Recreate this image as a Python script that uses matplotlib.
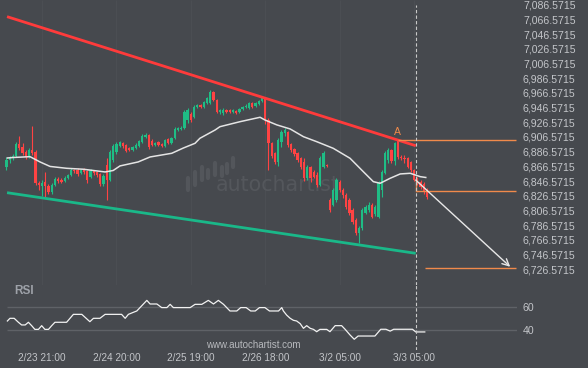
import numpy as np
import matplotlib
matplotlib.use('Agg')
import matplotlib.pyplot as plt

# ---- values (hourly candles, index 0 = first bar) ----
opens = [6866, 6875, 6878, 6881, 6897, 6893, 6886, 6881, 6889, 6886,
         6844, 6840, 6845, 6840, 6832, 6841, 6849, 6848, 6847, 6851,
         6855, 6862, 6862, 6858, 6862, 6860, 6852, 6860, 6859, 6856,
         6843, 6869, 6848, 6875, 6886, 6894, 6898, 6896, 6892, 6889,
         6892, 6894, 6900, 6907, 6909, 6901, 6896, 6900, 6897, 6894,
         6904, 6898, 6905, 6916, 6917, 6919, 6930, 6938, 6934, 6947,
         6950, 6947, 6953, 6953, 6968, 6957, 6941, 6939, 6943, 6943,
         6941, 6942, 6941, 6945, 6947, 6946, 6953, 6949, 6952, 6956,
         6960, 6930, 6898, 6885, 6873, 6900, 6912, 6913, 6897, 6890,
         6885, 6878, 6873, 6851, 6866, 6859, 6855, 6841, 6866, 6869,
         6821, 6814, 6821, 6845, 6835, 6828, 6821, 6807, 6794, 6776,
         6783, 6803, 6807, 6814, 6802, 6798, 6835, 6858, 6875, 6889,
         6874, 6901, 6879, 6878, 6878, 6873, 6862, 6851, 6845, 6843,
         6835]
closes = [6875, 6878, 6881, 6897, 6892, 6885, 6879, 6889, 6885, 6844,
          6841, 6844, 6840, 6832, 6841, 6849, 6847, 6845, 6851, 6855,
          6862, 6860, 6856, 6862, 6859, 6848, 6860, 6858, 6855, 6843,
          6854, 6848, 6886, 6894, 6897, 6900, 6894, 6888, 6889, 6893,
          6896, 6901, 6908, 6909, 6893, 6896, 6898, 6896, 6894, 6902,
          6898, 6905, 6917, 6919, 6919, 6941, 6943, 6930, 6947, 6950,
          6947, 6954, 6960, 6968, 6957, 6941, 6943, 6943, 6941, 6941,
          6943, 6939, 6945, 6947, 6949, 6953, 6947, 6953, 6956, 6960,
          6930, 6898, 6881, 6873, 6903, 6913, 6916, 6896, 6889, 6883,
          6875, 6866, 6851, 6866, 6851, 6852, 6841, 6878, 6885, 6867,
          6807, 6835, 6848, 6835, 6827, 6811, 6803, 6791, 6776, 6783,
          6807, 6811, 6814, 6798, 6811, 6844, 6859, 6885, 6889, 6874,
          6898, 6879, 6878, 6877, 6866, 6862, 6848, 6843, 6839, 6832,
          6825]
highs = [6879, 6881, 6883, 6900, 6908, 6898, 6889, 6892, 6922, 6889,
         6847, 6848, 6859, 6843, 6844, 6852, 6852, 6851, 6854, 6856,
         6864, 6863, 6864, 6863, 6864, 6862, 6863, 6862, 6860, 6858,
         6856, 6878, 6889, 6897, 6900, 6901, 6900, 6897, 6893, 6894,
         6898, 6902, 6911, 6912, 6911, 6904, 6900, 6901, 6898, 6904,
         6905, 6907, 6920, 6920, 6922, 6943, 6946, 6941, 6950, 6951,
         6951, 6956, 6961, 6971, 6969, 6958, 6945, 6946, 6945, 6945,
         6945, 6943, 6946, 6949, 6951, 6954, 6954, 6954, 6957, 6961,
         6961, 6932, 6900, 6886, 6905, 6916, 6919, 6915, 6898, 6892,
         6886, 6879, 6878, 6868, 6867, 6862, 6859, 6881, 6888, 6870,
         6824, 6837, 6851, 6848, 6837, 6830, 6824, 6810, 6796, 6785,
         6810, 6814, 6818, 6817, 6814, 6847, 6862, 6888, 6892, 6890,
         6900, 6904, 6882, 6882, 6879, 6874, 6863, 6852, 6848, 6845,
         6837]
lows = [6862, 6871, 6875, 6879, 6889, 6882, 6877, 6878, 6882, 6841,
        6834, 6826, 6824, 6829, 6829, 6840, 6844, 6844, 6845, 6849,
        6854, 6858, 6854, 6856, 6856, 6844, 6851, 6855, 6852, 6840,
        6840, 6821, 6847, 6873, 6883, 6893, 6892, 6886, 6888, 6888,
        6890, 6893, 6898, 6905, 6890, 6894, 6894, 6894, 6893, 6893,
        6897, 6897, 6904, 6915, 6916, 6917, 6926, 6927, 6932, 6946,
        6946, 6946, 6951, 6951, 6956, 6939, 6938, 6937, 6939, 6939,
        6939, 6938, 6939, 6943, 6946, 6945, 6946, 6947, 6950, 6954,
        6924, 6862, 6878, 6870, 6867, 6893, 6908, 6893, 6886, 6881,
        6873, 6863, 6847, 6848, 6845, 6851, 6839, 6840, 6864, 6866,
        6805, 6813, 6818, 6832, 6824, 6809, 6800, 6788, 6773, 6762,
        6780, 6802, 6805, 6796, 6799, 6796, 6825, 6856, 6871, 6871,
        6868, 6877, 6875, 6871, 6864, 6859, 6847, 6841, 6836, 6829,
        6822]

# moving average (read as points along the white curve)
ma_x = [0.3, 2.1, 7.3, 10.4, 13.5, 18.6, 23.8, 30.5, 33.0, 35.1, 40.7, 44.4,
        51.1, 54.7, 58.3, 59.8, 64.5, 66.0, 72.2, 78.4, 79.9, 83.6, 87.7,
        91.8, 95.9, 101.0, 106.2, 110.3, 113.4, 115.5, 118.6, 121.7, 124.8,
        127.9, 129.6]
ma_val = [6878.0, 6878.7, 6879.8, 6872.6, 6866.5, 6864.0, 6862.7, 6859.0,
          6861.0, 6867.2, 6872.6, 6879.4, 6884.4, 6891.6, 6898.0, 6904.8,
          6916.1, 6920.6, 6927.4, 6933.4, 6929.7, 6923.0, 6917.5, 6907.0,
          6900.2, 6891.2, 6877.6, 6859.4, 6845.8, 6843.6, 6850.4, 6856.3,
          6857.2, 6852.6, 6851.5]

# RSI
rsi_x = [0.3, 1.1, 2.4, 3.7, 4.7, 5.8, 6.8, 7.8, 8.8, 9.9, 10.9, 11.9, 13.0,
         14.0, 15.0, 18.6, 20.7, 23.3, 25.8, 26.9, 28.9, 30.5, 35.6, 36.7,
         37.7, 39.2, 40.3, 43.4, 44.4, 46.5, 48.0, 49.6, 50.6, 51.6, 56.8,
         58.3, 60.4, 62.4, 64.0, 65.5, 67.1, 69.1, 71.2, 72.4, 74.1, 75.5,
         76.9, 78.2, 79.9, 81.3, 84.1, 85.1, 85.6, 86.6, 87.7, 88.7, 89.7,
         90.8, 91.8, 92.8, 93.9, 94.9, 95.9, 96.9, 99.0, 100.0, 101.6, 103.6,
         104.7, 106.2, 107.5, 108.7, 113.9, 115.7, 117.3, 118.6, 119.7,
         125.5, 126.5, 129.3]
rsi_val = [47.7, 50.0, 50.0, 46.6, 44.3, 44.3, 46.6, 43.7, 40.5, 40.5, 43.7,
           40.5, 40.5, 43.7, 46.6, 46.6, 53.4, 53.4, 47.1, 50.0, 50.0, 53.4,
           53.4, 50.0, 53.4, 55.1, 56.3, 65.4, 62.3, 62.3, 59.2, 59.2, 62.0,
           59.2, 59.2, 62.0, 62.0, 65.4, 62.3, 65.4, 62.0, 56.3, 56.3, 59.2,
           59.2, 56.3, 56.3, 59.2, 59.2, 56.3, 56.3, 59.2, 56.3, 52.8, 50.0,
           48.3, 47.7, 45.4, 41.4, 43.7, 41.4, 40.5, 38.5, 40.5, 40.5, 38.5,
           43.7, 43.7, 40.5, 35.7, 32.0, 34.8, 34.8, 40.6, 40.6, 39.0, 40.6,
           40.6, 38.3, 38.3]

# channel lines
res_x, res_y = [0.2, 126.5], [7070.3, 6894.7]
sup_x, sup_y = [0.2, 126.5], [6830.8, 6748.3]

# pattern levels
a_idx, a_level = 121, 6903.0
now_idx = 126.5
entry_top, entry_level = 6848.0, 6833.5
target_start, target_level = 129.4, 6729.0
arrow_end = (155.7, 6730.0)

price_ticks = np.arange(6726.5715, 7090, 20)
date_pos = [11, 34, 57, 80, 103, 126]
date_labels = ['2/23 21:00', '2/24 20:00', '2/25 19:00', '2/26 18:00',
               '3/2 05:00', '3/3 05:00']

# ---- styling ----
BG = '#46494e'
GREEN = '#1fbd85'
RED = '#ff4343'
ORANGE = '#f08a4b'
TXT = '#c3c5c9'
plt.rcParams['font.family'] = ['Liberation Sans', 'DejaVu Sans']

W, H = 588, 368
fig = plt.figure(figsize=(W / 100, H / 100), dpi=100, facecolor=BG)
ax = fig.add_axes([0, 1 - 285 / H, 517 / W, 285 / H], facecolor=BG)
ax_rsi = fig.add_axes([0, 1 - 350 / H, 517 / W, 65 / H], facecolor=BG, sharex=ax)

xmin, xmax = -1.98, 157.8
ax.set_xlim(xmin, xmax)
ax.set_ylim(6705.2, 7092.96)
ax_rsi.set_ylim(22.8, 78.6)

# faint vertical grid
ax.vlines(date_pos, 6705.2, 7092.96, color='#4b4e53', lw=1, zorder=0)

# watermark
bars = [(188, 178, 190), (195, 172, 185), (202, 167, 180), (208, 170, 178),
        (215, 163, 175), (222, 167, 176), (227, 164, 173), (233, 158, 167)]
for bx, yt, yb in bars:
    ax.plot([bx / 517, bx / 517], [1 - yt / 285, 1 - yb / 285], transform=ax.transAxes,
            color='#53565b', lw=3, solid_capstyle='round', zorder=0.5)
ax.text(216 / 517, 1 - 185 / 285, 'autochartist', transform=ax.transAxes,
        color='#54575c', fontsize=14.8, va='center', ha='left', zorder=0.5,
        family='DejaVu Sans')

# candles
idx = np.arange(len(closes))
o = np.array(opens, float)
c = np.array(closes, float)
cols = np.where(c >= o, GREEN, RED)
ax.vlines(idx, lows, highs, colors=cols, lw=0.8, zorder=2)
ax.bar(idx, np.maximum(np.abs(c - o), 1.3), bottom=np.minimum(o, c), width=0.7,
       color=cols, lw=0, zorder=3)

# moving average
ax.plot(ma_x, ma_val, color='#e4e4e4', lw=1.1, zorder=4)

# channel
ax.plot(res_x, res_y, color='#ff3b3b', lw=2, zorder=5, solid_capstyle='butt')
ax.plot(sup_x, sup_y, color='#1ab889', lw=2, zorder=5, solid_capstyle='butt')

# levels / projection
ax.hlines(a_level, a_idx, xmax - 0.3, color=ORANGE, lw=1, zorder=5)
ax.text(a_idx - 0.3, 6913, 'A', color=ORANGE, fontsize=7.5, ha='center', va='center')
ax.plot([now_idx, now_idx], [entry_top, entry_level], color=ORANGE, lw=1, zorder=5)
ax.hlines(entry_level, now_idx, xmax - 0.3, color=ORANGE, lw=1, zorder=5)
ax.hlines(target_level, target_start, xmax - 0.3, color=ORANGE, lw=1, zorder=5)
ax.annotate('', xy=arrow_end, xytext=(now_idx, entry_top),
            arrowprops=dict(arrowstyle='->', color='#e8e8e8', lw=1,
                            mutation_scale=12, shrinkA=0, shrinkB=0), zorder=6)
ax.plot([now_idx, now_idx], [6705.2, 7086.2], color='#c9c9c9', lw=0.8,
        ls=(0, (3, 2)), zorder=6)

# RSI panel
ax_rsi.hlines([60, 40], 0.3, xmax, color='#5f6267', lw=1, zorder=1)
ax_rsi.plot(rsi_x, rsi_val, color='#f2f2f2', lw=0.9, zorder=3)
ax_rsi.axvline(now_idx, color='#c9c9c9', lw=0.8, ls=(0, (3, 2)), zorder=4)
fig.text(14 / W, 1 - 291 / H, 'RSI', color='#9ea2a9', fontsize=8.5,
         fontweight='bold', va='center', ha='left')
fig.text(253 / W, 1 - 345 / H, 'www.autochartist.com', color='#b8babe',
         fontsize=7, ha='center', va='center')

# axes formatting
for a in (ax, ax_rsi):
    for s in a.spines.values():
        s.set_visible(False)
    a.yaxis.tick_right()
    a.tick_params(axis='both', length=0, labelsize=7.6, labelcolor=TXT, pad=4.3)

ax.set_yticks(price_ticks)
ax.set_yticklabels([f'{v:,.4f}' for v in price_ticks])
ax.tick_params(axis='x', labelbottom=False)
ax_rsi.set_yticks([40, 60])
ax_rsi.set_yticklabels(['40', '60'])
ax_rsi.set_xticks(date_pos)
ax_rsi.set_xticklabels(date_labels)
ax_rsi.tick_params(axis='x', labelsize=7.2, pad=2.5)

fig.savefig('out.png', dpi=100, facecolor=BG)
